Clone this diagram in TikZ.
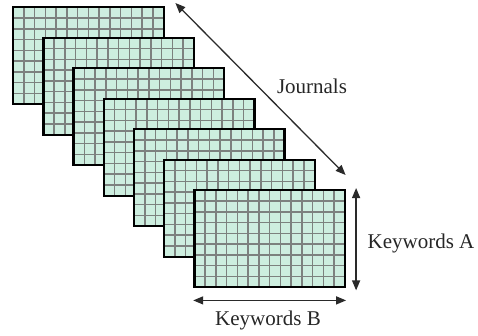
\documentclass[tikz,border=0pt]{standalone}
\usepackage{fontspec}
\setmainfont{Liberation Serif}
\usetikzlibrary{arrows.meta,calc}
\definecolor{sheetfill}{HTML}{CDEEDF}
\definecolor{gridline}{HTML}{7C817E}
\definecolor{arrowcol}{HTML}{2A2A2A}
\tikzset{
  sheet/.style={draw=black, line width=2.4pt, fill=sheetfill,
    minimum width=150.5pt, minimum height=97pt, inner sep=0pt,
    anchor=north west,
    path picture={
      \foreach \c in {1,...,13}
        \draw[gridline, line width=1.5pt]
          ($(path picture bounding box.north west)!\c/14!(path picture bounding box.north east)$) --
          ($(path picture bounding box.south west)!\c/14!(path picture bounding box.south east)$);
      \foreach \r in {1,...,8}
        \draw[gridline, line width=1.5pt]
          ($(path picture bounding box.north west)!\r/9!(path picture bounding box.south west)$) --
          ($(path picture bounding box.north east)!\r/9!(path picture bounding box.south east)$);
    }},
  dimarrow/.style={draw=arrowcol, line width=1.3pt,
    {Triangle[length=10pt,width=8pt]}-{Triangle[length=10pt,width=8pt]}},
  label/.style={font=\fontsize{21pt}{23pt}\selectfont, text=black!85, inner sep=0pt}
}
\begin{document}
\begin{tikzpicture}[x=1pt,y=-1pt]
  \useasboundingbox (0,0) rectangle (478,335);
  % stack of seven keyword matrices, back to front
  \foreach \i in {0,...,6}
    \node[sheet] (s\i) at ({12+30.2*\i},{6+30.5*\i}) {};
  % dimension markers
  \coordinate (jtop) at ($(s0.north east)+(10.5,-3)$);
  \coordinate (jbot) at ($(s6.north east)+(-0.5,-14)$);
  \draw[dimarrow] (jtop) -- (jbot);
  \coordinate (atop) at ($(s6.north east)+(10,-1)$);
  \coordinate (abot) at ($(s6.south east)+(10,2)$);
  \draw[dimarrow] (atop) -- (abot);
  \coordinate (bl) at ($(s6.south west)+(0,12)$);
  \coordinate (br) at ($(s6.south east)+(0,12)$);
  \draw[dimarrow] (bl) -- (br);
  % labels
  \node[label] (jl) at (312,86) {Journals};
  \node[label] (al) at (421,243) {Keywords A};
  \node[label] (bll) at (268,320) {Keywords B};
\end{tikzpicture}
\end{document}
